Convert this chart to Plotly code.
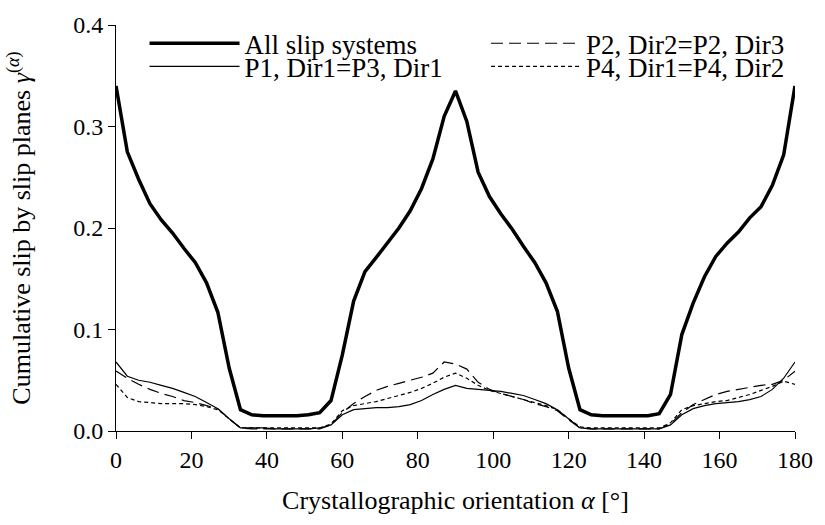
import plotly.graph_objects as go

angle = [0, 3, 6, 9, 12, 15, 18, 21, 24, 27, 30, 33, 36, 39, 42, 45, 48, 51, 54, 57,
         60, 63, 66, 69, 72, 75, 78, 81, 84, 87, 90, 93, 96, 99, 102, 105, 108, 111, 114, 117,
         120, 123, 126, 129, 132, 135, 138, 141, 144, 147, 150, 153, 156, 159, 162, 165, 168, 171, 174, 177, 180]

all_slip = [0.340, 0.275, 0.248, 0.224, 0.208, 0.195, 0.180, 0.166, 0.146, 0.117, 0.062, 0.021, 0.016, 0.015, 0.015,
            0.015, 0.015, 0.016, 0.018, 0.030, 0.075, 0.128, 0.157, 0.171, 0.185, 0.200, 0.217, 0.239, 0.268, 0.310,
            0.335, 0.305, 0.255, 0.231, 0.214, 0.199, 0.182, 0.166, 0.146, 0.118, 0.062, 0.021, 0.016, 0.015, 0.015,
            0.015, 0.015, 0.015, 0.017, 0.036, 0.095, 0.126, 0.152, 0.172, 0.185, 0.196, 0.210, 0.221, 0.242, 0.272, 0.340]

p1 = [0.068, 0.054, 0.050, 0.048, 0.045, 0.042, 0.038, 0.034, 0.028, 0.022, 0.012, 0.003, 0.003, 0.003, 0.002,
      0.002, 0.002, 0.002, 0.003, 0.006, 0.016, 0.021, 0.022, 0.023, 0.023, 0.024, 0.026, 0.030, 0.036, 0.041,
      0.045, 0.042, 0.041, 0.040, 0.039, 0.037, 0.035, 0.031, 0.027, 0.021, 0.012, 0.003, 0.002, 0.002, 0.002,
      0.002, 0.002, 0.002, 0.002, 0.006, 0.016, 0.022, 0.025, 0.027, 0.028, 0.029, 0.031, 0.034, 0.041, 0.052, 0.068]

p2 = [0.059, 0.052, 0.046, 0.041, 0.037, 0.034, 0.030, 0.028, 0.025, 0.022, 0.012, 0.003, 0.002, 0.002, 0.002,
      0.002, 0.002, 0.002, 0.002, 0.006, 0.018, 0.027, 0.034, 0.040, 0.044, 0.047, 0.050, 0.053, 0.057, 0.068,
      0.066, 0.061, 0.048, 0.041, 0.037, 0.034, 0.031, 0.027, 0.024, 0.020, 0.011, 0.003, 0.002, 0.002, 0.002,
      0.002, 0.002, 0.002, 0.002, 0.007, 0.018, 0.026, 0.031, 0.036, 0.039, 0.041, 0.043, 0.045, 0.046, 0.050, 0.059]

p4 = [0.046, 0.033, 0.029, 0.028, 0.027, 0.027, 0.027, 0.026, 0.024, 0.021, 0.012, 0.003, 0.003, 0.003, 0.003,
      0.003, 0.003, 0.003, 0.003, 0.007, 0.020, 0.025, 0.027, 0.029, 0.032, 0.035, 0.038, 0.042, 0.047, 0.053,
      0.057, 0.052, 0.045, 0.040, 0.037, 0.034, 0.031, 0.028, 0.025, 0.021, 0.012, 0.004, 0.003, 0.003, 0.003,
      0.003, 0.003, 0.003, 0.003, 0.008, 0.021, 0.025, 0.027, 0.029, 0.030, 0.033, 0.036, 0.040, 0.044, 0.049, 0.046]

names = ["All slip systems", "P1, Dir1=P3, Dir1", "P2, Dir2=P2, Dir3", "P4, Dir1=P4, Dir2"]
x_ticks = [0, 20, 40, 60, 80, 100, 120, 140, 160, 180]
y_ticks = [0.0, 0.1, 0.2, 0.3, 0.4]

FONT = "Liberation Serif, Times New Roman, serif"

fig = go.Figure()
fig.add_trace(go.Scatter(x=angle, y=all_slip, name=names[0], mode="lines",
                         line=dict(color="black", width=3.5), legend="legend"))
fig.add_trace(go.Scatter(x=angle, y=p1, name=names[1], mode="lines",
                         line=dict(color="black", width=1.2), legend="legend2"))
fig.add_trace(go.Scatter(x=angle, y=p2, name=names[2], mode="lines",
                         line=dict(color="black", width=1.2, dash="12px,6px"), legend="legend3"))
fig.add_trace(go.Scatter(x=angle, y=p4, name=names[3], mode="lines",
                         line=dict(color="black", width=1.2, dash="4px,3px"), legend="legend4"))

legend_common = dict(font=dict(family=FONT, size=27, color="black"), bgcolor="rgba(0,0,0,0)",
                     itemwidth=90, xanchor="left", yanchor="middle",
                     itemclick=False, itemdoubleclick=False)

row1_y = 0.954
row2_y = 0.897
col1_x = 0.042
col2_x = 0.545

fig.update_layout(
    width=825, height=525,
    margin=dict(l=116, r=19, t=16, b=94),
    paper_bgcolor="white", plot_bgcolor="white",
    font=dict(family=FONT, size=25, color="black"),
    showlegend=True,
    legend=dict(x=col1_x, y=row1_y, **legend_common),
    legend2=dict(x=col1_x, y=row2_y, **legend_common),
    legend3=dict(x=col2_x, y=row1_y, **legend_common),
    legend4=dict(x=col2_x, y=row2_y, **legend_common),
    xaxis=dict(range=[0, 180], tickvals=x_ticks, ticks="outside", ticklen=7, tickwidth=1,
               tickcolor="black", showline=True, linecolor="black", linewidth=1,
               showgrid=False, zeroline=False, mirror=False,
               tickfont=dict(family=FONT, size=24),
               title=dict(text="Crystallographic orientation <i>α</i> [°]", standoff=19,
                          font=dict(family=FONT, size=26))),
    yaxis=dict(range=[0, 0.4], tickvals=y_ticks, tickformat=".1f", ticks="outside", ticklen=7,
               tickwidth=1, tickcolor="black", showline=True, linecolor="black", linewidth=1,
               showgrid=False, zeroline=False,
               tickfont=dict(family=FONT, size=24),
               title=dict(text="Cumulative slip by slip planes <i>γ</i><sup>(<i>α</i>)</sup>", standoff=35,
                          font=dict(family=FONT, size=26))),
)

fig.write_html("out.html")
